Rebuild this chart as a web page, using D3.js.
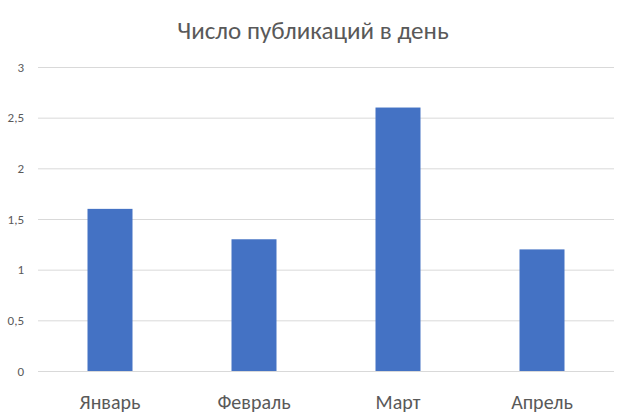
<!DOCTYPE html>
<html><head><meta charset="utf-8">
<script src="https://cdn.jsdelivr.net/npm/d3@7"></script>
<style>body{margin:0;background:#fff}</style></head>
<body><svg id="c" width="626" height="420"></svg>
<script>
const categories = ["Январь","Февраль","Март","Апрель"];
const values = [1.6,1.3,2.6,1.2];
const yTicks = [0,0.5,1,1.5,2,2.5,3];
const title = "Число публикаций в день";

const svg = d3.select("#c");
const font = "Calibri, Carlito, 'Liberation Sans', 'Open Sans', sans-serif";
const x = d3.scaleBand().domain(categories).range([38,614]).paddingInner(0.6875).paddingOuter(0.34375);
const y = d3.scaleLinear().domain([0,3]).range([371,67]);

svg.append("text").attr("x",313).attr("y",39).attr("text-anchor","middle")
  .attr("font-family",font).attr("font-size",25).attr("fill","#595959").text(title);

svg.append("g").selectAll("line").data(yTicks).join("line")
  .attr("x1",38).attr("x2",614).attr("y1",d=>y(d)+0.5).attr("y2",d=>y(d)+0.5)
  .attr("stroke","#d9d9d9").attr("stroke-width",1);

svg.append("g").selectAll("text").data(yTicks).join("text")
  .attr("x",24).attr("y",d=>y(d)+4.5).attr("text-anchor","end")
  .attr("font-family",font).attr("font-size",13).attr("fill","#595959")
  .text(d=>String(d).replace(".",","));

svg.append("g").selectAll("rect").data(values).join("rect")
  .attr("x",(d,i)=>x(categories[i])).attr("width",x.bandwidth())
  .attr("y",d=>y(d)).attr("height",d=>y(0)-y(d)).attr("fill","#4472C4");

svg.append("g").selectAll("text").data(categories).join("text")
  .attr("x",d=>x(d)+x.bandwidth()/2).attr("y",409).attr("text-anchor","middle")
  .attr("font-family",font).attr("font-size",20).attr("fill","#595959").text(d=>d);
</script></body></html>
